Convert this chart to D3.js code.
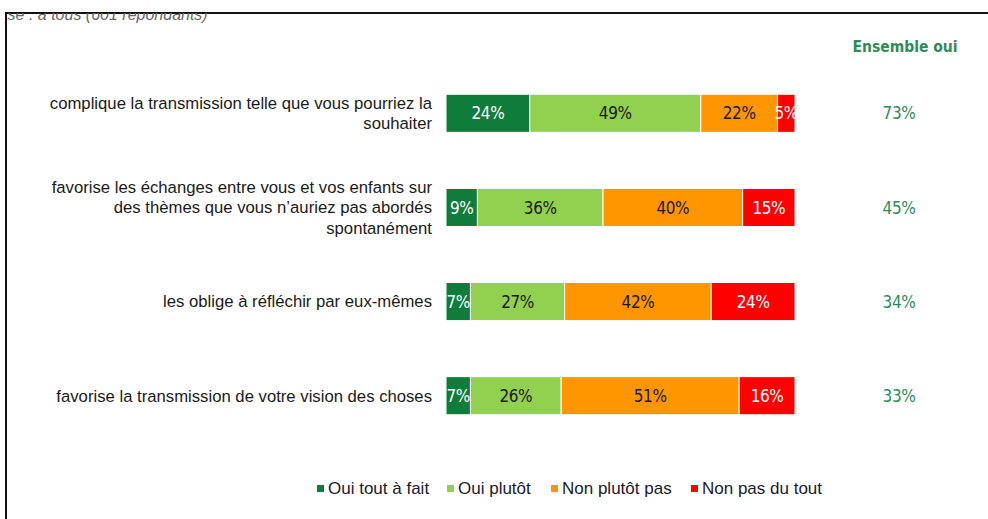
<!DOCTYPE html>
<html><head><meta charset="utf-8">
<script src="https://cdn.jsdelivr.net/npm/d3@7"></script>
<style>html,body{margin:0;padding:0;background:#fff;}</style>
</head><body>
<svg id="c" width="988" height="519"></svg>
<script>
const categories = [
  ["complique la transmission telle que vous pourriez la", "souhaiter"],
  ["favorise les échanges entre vous et vos enfants sur", "des thèmes que vous n’auriez pas abordés", "spontanément"],
  ["les oblige à réfléchir par eux-mêmes"],
  ["favorise la transmission de votre vision des choses"]
];
const seriesNames = ["Oui tout à fait", "Oui plutôt", "Non plutôt pas", "Non pas du tout"];
const ouiToutAFait = [24, 9, 7, 7];
const ouiPlutot = [49, 36, 27, 26];
const nonPlutotPas = [22, 40, 42, 51];
const nonPasDuTout = [5, 15, 24, 16];
const ensembleOui = [73, 45, 34, 33];
const colors = ["#0e7c3a", "#92d050", "#ff9600", "#ff0000"];
const labelColors = ["#ffffff", "#1a1a1a", "#1a1a1a", "#ffffff"];

const svg = d3.select("#c");
const series = [ouiToutAFait, ouiPlutot, nonPlutotPas, nonPasDuTout];

// frame
svg.append("defs").append("clipPath").attr("id","fr").append("rect")
  .attr("x",7).attr("y",13).attr("width",990).attr("height",520);
svg.append("line").attr("x1",6).attr("x2",6).attr("y1",12).attr("y2",519).attr("stroke","#111").attr("stroke-width",2);
svg.append("line").attr("x1",5).attr("x2",988).attr("y1",13).attr("y2",13).attr("stroke","#111").attr("stroke-width",2);
svg.append("text").attr("clip-path","url(#fr)").attr("x",-12).attr("y",20)
  .attr("font-family","Liberation Sans, Arial").attr("font-style","italic").attr("font-size",16)
  .attr("fill","#666").text("Base : à tous (601 répondants)");

const x = d3.scaleLinear().domain([0,100]).range([446,795]);
const y = d3.scaleBand().domain(d3.range(categories.length)).range([66,443]).paddingInner(0.595).paddingOuter(0.3);

const stack = d3.stack().keys([0,1,2,3]).value((d,k)=>series[k][d]);
const stacked = stack(d3.range(categories.length));

stacked.forEach((layer,k)=>{
  const g = svg.append("g");
  g.selectAll("rect").data(layer).enter().append("rect")
    .attr("x",d=>x(d[0])).attr("y",(d,i)=>y(i))
    .attr("width",d=>x(d[1])-x(d[0])).attr("height",y.bandwidth())
    .attr("fill",colors[k]).attr("stroke","#fff").attr("stroke-width",1);
  g.selectAll("text").data(layer).enter().append("text")
    .attr("x",d=>(x(d[0])+x(d[1]))/2).attr("y",(d,i)=>y(i)+y.bandwidth()/2)
    .attr("dy","0.36em").attr("text-anchor","middle")
    .attr("font-family","DejaVu Sans Condensed, DejaVu Sans").attr("font-size",17)
    .attr("fill",labelColors[k]).attr("letter-spacing",-0.4)
    .text((d,i)=>series[k][i]+"%");
});

// category labels
categories.forEach((lines,i)=>{
  const cy = y(i)+y.bandwidth()/2;
  const lh = 20.5;
  const t = svg.append("text").attr("text-anchor","end")
    .attr("font-family","Liberation Sans, Arial").attr("font-size",16.7).attr("fill","#1a1a1a");
  lines.forEach((l,j)=>{
    t.append("tspan").attr("x",432).attr("y",cy+(j-(lines.length-1)/2)*lh).attr("dy","0.35em").text(l);
  });
});

// ensemble oui
svg.append("text").attr("x",905).attr("y",47).attr("dy","0.35em").attr("text-anchor","middle")
  .attr("font-family","DejaVu Sans Condensed, DejaVu Sans").attr("font-size",15.5).attr("font-weight","bold")
  .attr("fill","#2e8b5a").text("Ensemble oui");
svg.append("g").selectAll("text").data(ensembleOui).enter().append("text")
  .attr("x",899).attr("y",(d,i)=>y(i)+y.bandwidth()/2).attr("dy","0.36em").attr("text-anchor","middle")
  .attr("font-family","DejaVu Sans Condensed, DejaVu Sans").attr("font-size",17)
  .attr("fill","#2e8b5a").attr("letter-spacing",-0.4).text(d=>d+"%");

// legend
const legX = [317, 447, 551, 691];
const lg = svg.append("g");
seriesNames.forEach((n,k)=>{
  lg.append("rect").attr("x",legX[k]).attr("y",485).attr("width",7).attr("height",7).attr("fill",colors[k]);
  lg.append("text").attr("x",legX[k]+11).attr("y",488.5).attr("dy","0.35em")
    .attr("font-family","Liberation Sans, Arial").attr("font-size",17).attr("fill","#1a1a2a").text(n);
});
</script>
</body></html>
